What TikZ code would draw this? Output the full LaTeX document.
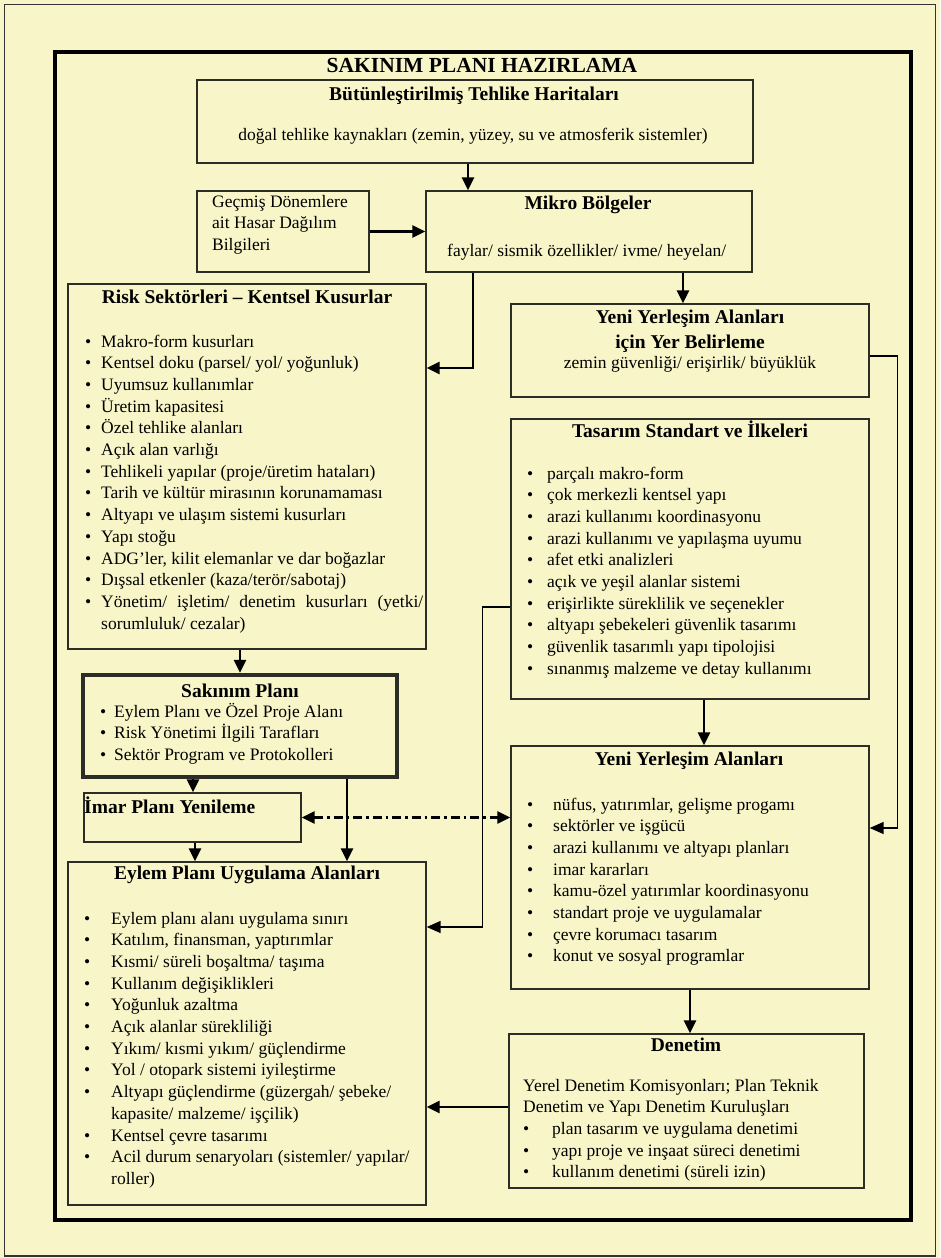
\documentclass[tikz,border=0pt]{standalone}
\usepackage{fontspec}
\setmainfont{Liberation Serif}
\usetikzlibrary{arrows.meta}
\definecolor{pagebg}{RGB}{248,246,200}
\definecolor{boxline}{RGB}{45,45,40}
% bullet list: width of bullet column, rows
\newcommand{\blist}[2]{\begin{tabular}[t]{@{}p{#1}@{}l@{}}#2\end{tabular}}

\begin{document}
\begin{tikzpicture}[x=1pt,y=-1pt,
  box/.style={draw=boxline,line width=1.4pt,inner sep=0pt},
  ttl/.style={font=\fontsize{19.5}{22}\selectfont\bfseries,inner sep=0pt,anchor=base},
  txt/.style={font=\fontsize{17.5}{21.7}\selectfont,inner sep=0pt,anchor=base west},
  arr/.style={line width=2.6pt,-{Triangle[length=13pt,width=12pt]}},
  thinarr/.style={line width=1.5pt,-{Triangle[length=14pt,width=12pt]}}]
\useasboundingbox (0,0) rectangle (940,1258);
\fill[pagebg] (0,0) rectangle (940,1258);
\draw[gray!40!black,line width=1.2pt] (4.5,4.5) rectangle (935.5,1256);
\draw[line width=4pt] (54.5,51.5) rectangle (910.5,1219.5);
\node[font=\fontsize{21.5}{24}\selectfont\bfseries,inner sep=0pt,anchor=base] (title) at (482,72) {SAKINIM PLANI HAZIRLAMA};

% top boxes
\node[box,minimum width=556pt,minimum height=83pt] (haz) at (475,121.5) {};
\node[ttl] (hazt) at (474,100) {Bütünleştirilmiş Tehlike Haritaları};
\node[txt,anchor=base] (hazs) at (473,140) {doğal tehlike kaynakları (zemin, yüzey, su ve atmosferik sistemler)};

\node[box,minimum width=172pt,minimum height=81pt] (gec) at (283,231.5) {};
\node[txt] (gect) at (212,207) {\begin{tabular}[t]{@{}l@{}}Geçmiş Dönemlere\\ait Hasar Dağılım\\Bilgileri\end{tabular}};

\node[box,minimum width=326pt,minimum height=81pt] (mik) at (589,231.5) {};
\node[ttl] (mikt) at (588,209) {Mikro Bölgeler};
\node[txt] (miks) at (447,256) {faylar/ sismik özellikler/ ivme/ heyelan/};

% left column
\node[box,minimum width=358pt,minimum height=365pt] (risk) at (247,466.5) {};
\node[ttl] (riskt) at (247,303) {Risk Sektörleri – Kentsel Kusurlar};
\node[txt] (riskl) at (85,347) {\blist{16pt}{%
  • & Makro-form kusurları\\
  • & Kentsel doku (parsel/ yol/ yoğunluk)\\
  • & Uyumsuz kullanımlar\\
  • & Üretim kapasitesi\\
  • & Özel tehlike alanları\\
  • & Açık alan varlığı\\
  • & Tehlikeli yapılar (proje/üretim hataları)\\
  • & Tarih ve kültür mirasının korunamaması\\
  • & Altyapı ve ulaşım sistemi kusurları\\
  • & Yapı stoğu\\
  • & ADG’ler, kilit elemanlar ve dar boğazlar\\
  • & Dışsal etkenler (kaza/terör/sabotaj)\\
  • & \makebox[322pt][s]{Yönetim/ işletim/ denetim kusurları (yetki/}\\
    & sorumluluk/ cezalar)}};

\node[box,line width=4.5pt,minimum width=314pt,minimum height=102pt] (sak) at (240,726) {};
\node[ttl] (sakt) at (240,697) {Sakınım Planı};
\node[txt] (sakl) at (100,717) {\blist{14pt}{%
  • & Eylem Planı ve Özel Proje Alanı\\
  • & Risk Yönetimi İlgili Tarafları\\
  • & Sektör Program ve Protokolleri}};

\node[box,minimum width=217pt,minimum height=49pt] (imar) at (192.5,817.5) {};
\node[ttl,anchor=base west] (imart) at (84,813) {İmar Planı Yenileme};

\node[box,minimum width=358pt,minimum height=343pt] (eyl) at (247,1033.5) {};
\node[ttl] (eylt) at (247,879) {Eylem Planı Uygulama Alanları};
\node[txt] (eyll) at (84,924) {\blist{27pt}{%
  • & Eylem planı alanı uygulama sınırı\\
  • & Katılım, finansman, yaptırımlar\\
  • & Kısmi/ süreli boşaltma/ taşıma\\
  • & Kullanım değişiklikleri\\
  • & Yoğunluk azaltma\\
  • & Açık alanlar sürekliliği\\
  • & Yıkım/ kısmi yıkım/ güçlendirme\\
  • & Yol / otopark sistemi iyileştirme\\
  • & Altyapı güçlendirme (güzergah/ şebeke/\\
    & kapasite/ malzeme/ işçilik)\\
  • & Kentsel çevre tasarımı\\
  • & Acil durum senaryoları (sistemler/ yapılar/\\
    & roller)}};

% right column
\node[box,minimum width=358pt,minimum height=93pt] (yer) at (690,350.5) {};
\node[ttl] (yert1) at (690,323) {Yeni Yerleşim Alanları};
\node[ttl] (yert2) at (690,348) {için Yer Belirleme};
\node[txt,anchor=base] (yers) at (690,368) {zemin güvenliği/ erişirlik/ büyüklük};

\node[box,minimum width=358pt,minimum height=280pt] (tas) at (690,559) {};
\node[ttl] (tast) at (690,437) {Tasarım Standart ve İlkeleri};
\node[txt] (tasl) at (527,479) {\blist{20pt}{%
  • & parçalı makro-form\\
  • & çok merkezli kentsel yapı\\
  • & arazi kullanımı koordinasyonu\\
  • & arazi kullanımı ve yapılaşma uyumu\\
  • & afet etki analizleri\\
  • & açık ve yeşil alanlar sistemi\\
  • & erişirlikte süreklilik ve seçenekler\\
  • & altyapı şebekeleri güvenlik tasarımı\\
  • & güvenlik tasarımlı yapı tipolojisi\\
  • & sınanmış malzeme ve detay kullanımı}};

\node[box,minimum width=358pt,minimum height=243pt] (yeni) at (690,867.5) {};
\node[ttl] (yenit) at (689,765) {Yeni Yerleşim Alanları};
\node[txt] (yenil) at (527,810) {\blist{26pt}{%
  • & nüfus, yatırımlar, gelişme progamı\\
  • & sektörler ve işgücü\\
  • & arazi kullanımı ve altyapı planları\\
  • & imar kararları\\
  • & kamu-özel yatırımlar koordinasyonu\\
  • & standart proje ve uygulamalar\\
  • & çevre korumacı tasarım\\
  • & konut ve sosyal programlar}};

\node[box,minimum width=355pt,minimum height=154pt] (den) at (686.5,1111) {};
\node[ttl] (dent) at (686,1051) {Denetim};
\node[txt] (denl) at (523,1091) {\blist{29pt}{%
  \multicolumn{2}{@{}l@{}}{Yerel Denetim Komisyonları; Plan Teknik}\\
  \multicolumn{2}{@{}l@{}}{Denetim ve Yapı Denetim Kuruluşları}\\
  • & plan tasarım ve uygulama denetimi\\
  • & yapı proje ve inşaat süreci denetimi\\
  • & kullanım denetimi (süreli izin)}};

% connectors
\draw[arr] ([xshift=-7pt]haz.south) -- ([xshift=-7pt]haz.south |- mik.north);
\draw[arr] (gec) -- (mik);
\draw[arr] ([xshift=-116pt]mik.south) |- ([yshift=98.5pt]risk.east);
\draw[arr] ([xshift=94pt]mik.south) -- ([xshift=94pt]mik.south |- yer.north);
\draw[thinarr] ([yshift=-5.5pt]yer.east) -- ++(28,0) |- ([yshift=39.5pt]yeni.east);
\draw[thinarr] ([yshift=-48pt]tas.west) -- ++(-28,0) |- ([yshift=106.5pt]eyl.east);
\draw[arr] ([xshift=14pt]tas.south) -- ([xshift=14pt]tas.south |- yeni.north);
\draw[arr] (yeni.south) -- (yeni.south |- den.north);
\draw[arr] ([yshift=4pt]den.west) -- ([yshift=4pt]den.west -| eyl.east);
\draw[arr] (sak.north |- risk.south) -- (sak.north);
\draw[arr] ([xshift=-47pt]sak.south) -- ([xshift=-47pt]sak.south |- imar.north);
\draw[arr] ([xshift=107pt]sak.south) -- ([xshift=107pt]sak.south |- eyl.north);
\draw[arr] ([xshift=2.5pt]imar.south) -- ([xshift=2.5pt]imar.south |- eyl.north);
\draw[line width=2.5pt,dash pattern=on 9pt off 4pt on 2.5pt off 4pt,
  {Triangle[length=13pt,width=12pt]}-{Triangle[length=13pt,width=12pt]}]
  (imar.east) -- (imar.east -| yeni.west);
\end{tikzpicture}
\end{document}
